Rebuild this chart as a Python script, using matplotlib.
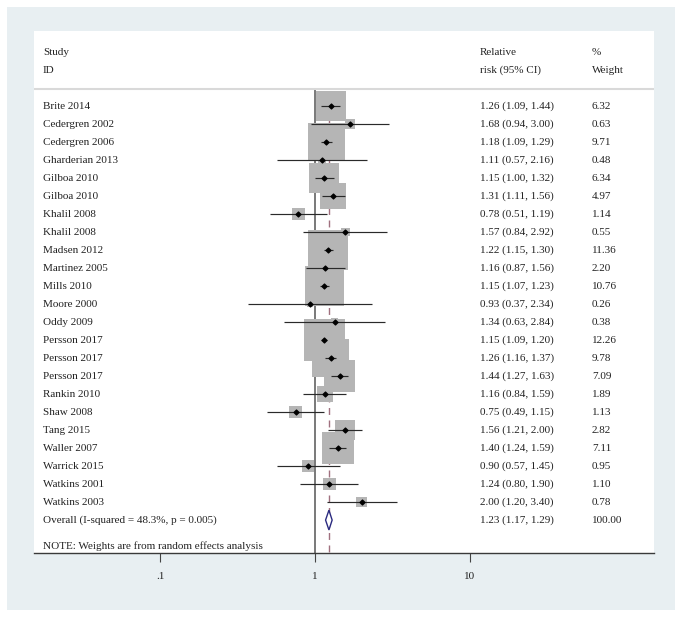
import matplotlib
matplotlib.use("Agg")
import matplotlib.pyplot as plt
from matplotlib.patches import Rectangle, Polygon

# study data
studies = ['Brite 2014', 'Cedergren 2002', 'Cedergren 2006', 'Gharderian 2013',
           'Gilboa 2010', 'Gilboa 2010', 'Khalil 2008', 'Khalil 2008',
           'Madsen 2012', 'Martinez 2005', 'Mills 2010', 'Moore 2000',
           'Oddy 2009', 'Persson 2017', 'Persson 2017', 'Persson 2017',
           'Rankin 2010', 'Shaw 2008', 'Tang 2015', 'Waller 2007',
           'Warrick 2015', 'Watkins 2001', 'Watkins 2003']
rr = [1.26, 1.68, 1.18, 1.11, 1.15, 1.31, 0.78, 1.57, 1.22, 1.16, 1.15, 0.93,
      1.34, 1.15, 1.26, 1.44, 1.16, 0.75, 1.56, 1.40, 0.90, 1.24, 2.00]
lower = [1.09, 0.94, 1.09, 0.57, 1.00, 1.11, 0.51, 0.84, 1.15, 0.87, 1.07, 0.37,
         0.63, 1.09, 1.16, 1.27, 0.84, 0.49, 1.21, 1.24, 0.57, 0.80, 1.20]
upper = [1.44, 3.00, 1.29, 2.16, 1.32, 1.56, 1.19, 2.92, 1.30, 1.56, 1.23, 2.34,
         2.84, 1.20, 1.37, 1.63, 1.59, 1.15, 2.00, 1.59, 1.45, 1.90, 3.40]
weights = [6.32, 0.63, 9.71, 0.48, 6.34, 4.97, 1.14, 0.55, 11.36, 2.20, 10.76, 0.26,
           0.38, 12.26, 9.78, 7.09, 1.89, 1.13, 2.82, 7.11, 0.95, 1.10, 0.78]

overall_label = 'Overall (I-squared = 48.3%, p = 0.005)'
overall_rr, overall_lo, overall_hi = 1.23, 1.17, 1.29
overall_weight = 100.00
note = 'NOTE: Weights are from random effects analysis'

tick_vals = [0.1, 1, 10]
tick_labels = ['.1', '1', '10']

plt.rcParams['font.family'] = ['Liberation Serif', 'DejaVu Serif']
txt_color = '#222222'
fs = 8.0

fig = plt.figure(figsize=(6.82, 6.18), dpi=100, facecolor='white')
fig.patches.append(Rectangle((7 / 682, 8 / 618), 668 / 682, 603 / 618,
                             transform=fig.transFigure, facecolor='#e8eff2',
                             edgecolor='none', zorder=-10))

ax = fig.add_axes([34 / 682, 65 / 618, 620 / 682, 522 / 618])
ax.set_facecolor('white')
ax.set_xscale('log')
ax.set_xlim(10 ** (-281 / 155), 10 ** (339 / 155))
ax.set_ylim(-24.83, 4.17)

n = len(studies)
ypos = [-i for i in range(n)]
y_overall = -n
y_note = -(n + 1.44)
y_sep = 0.94

# reference lines
ax.plot([1, 1], [y_sep, -24.83], color='#555555', lw=1.1, zorder=1)
ax.plot([overall_rr, overall_rr], [0.6, -24.83], color='#a0707f', lw=1.0,
        dashes=(5, 4), zorder=1)
ax.axhline(y_sep, color='#d9d9d9', lw=1.5, zorder=1)

# weight boxes, area proportional to weight
ax.scatter(rr, ypos, s=[73.8 * w for w in weights], marker='s',
           color='#b5b5b5', edgecolors='none', zorder=2)
ax.hlines(ypos, lower, upper, color='#2a2a2a', lw=0.85, zorder=3)
ax.scatter(rr, ypos, s=6, marker='D', color='black', zorder=4)

# overall diamond
ax.add_patch(Polygon([(overall_lo, y_overall), (overall_rr, y_overall + 0.55),
                      (overall_hi, y_overall), (overall_rr, y_overall - 0.55)],
                     closed=True, facecolor='white', edgecolor='#2b2b80',
                     lw=1.0, zorder=4))

# text columns
tr = ax.get_yaxis_transform()
x_study, x_ci, x_w = 9 / 620, 446 / 620, 558 / 620
ax.text(x_study, 3, 'Study', transform=tr, va='center', fontsize=fs, color=txt_color)
ax.text(x_study, 2, 'ID', transform=tr, va='center', fontsize=fs, color=txt_color)
ax.text(x_ci, 3, 'Relative', transform=tr, va='center', fontsize=fs, color=txt_color)
ax.text(x_ci, 2, 'risk (95% CI)', transform=tr, va='center', fontsize=fs, color=txt_color)
ax.text(x_w, 3, '%', transform=tr, va='center', fontsize=fs, color=txt_color)
ax.text(x_w, 2, 'Weight', transform=tr, va='center', fontsize=fs, color=txt_color)

for y, name, r, lo, hi, w in zip(ypos, studies, rr, lower, upper, weights):
    ax.text(x_study, y, name, transform=tr, va='center', fontsize=fs, color=txt_color)
    ax.text(x_ci, y, f'{r:.2f} ({lo:.2f}, {hi:.2f})', transform=tr,
            va='center', fontsize=fs, color=txt_color)
    ax.text(x_w, y, f'{w:.2f}', transform=tr, va='center', fontsize=fs, color=txt_color)

ax.text(x_study, y_overall, overall_label, transform=tr, va='center',
        fontsize=fs, color=txt_color)
ax.text(x_ci, y_overall, f'{overall_rr:.2f} ({overall_lo:.2f}, {overall_hi:.2f})',
        transform=tr, va='center', fontsize=fs, color=txt_color)
ax.text(x_w, y_overall, f'{overall_weight:.2f}', transform=tr, va='center',
        fontsize=fs, color=txt_color)
ax.text(x_study, y_note, note, transform=tr, va='center', fontsize=fs, color=txt_color)

# axis styling
for side in ['top', 'left', 'right']:
    ax.spines[side].set_visible(False)
ax.spines['bottom'].set_color('#3a3a3a')
ax.spines['bottom'].set_linewidth(1.0)
ax.set_yticks([])
ax.set_xticks(tick_vals)
ax.set_xticklabels(tick_labels)
ax.xaxis.set_minor_locator(plt.NullLocator())
ax.tick_params(axis='x', direction='out', length=6.5, width=0.8, color='#444444',
               pad=7, labelsize=fs, labelcolor=txt_color)

fig.savefig('out.png', dpi=100)
